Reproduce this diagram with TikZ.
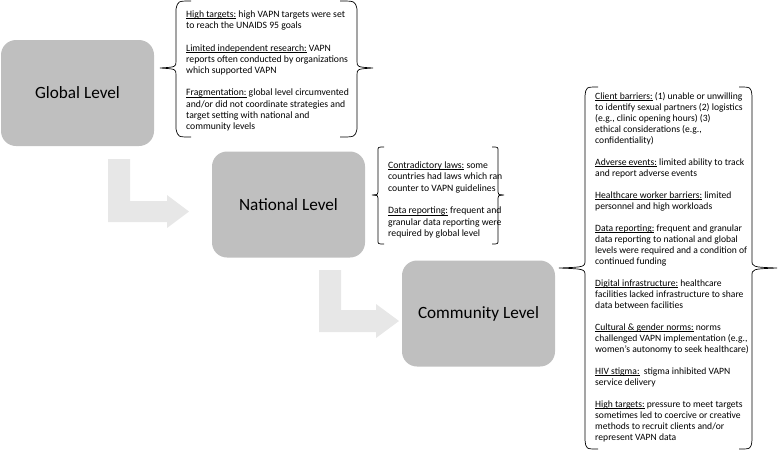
\documentclass[tikz,border=0pt]{standalone}
\usepackage{fontspec}
\setmainfont{Carlito}
\newsavebox{\labbox}
\newcommand{\lab}[1]{\sbox{\labbox}{#1}\rlap{\rule[-1.4pt]{\wd\labbox}{0.55pt}}\usebox{\labbox}}
\begin{document}
\begin{tikzpicture}[x=1pt,y=-1pt,
  level/.style={fill=boxgray, draw=none, rounded corners=15pt, minimum width=153pt, minimum height=106pt, inner sep=0pt, font=\fontsize{17.2}{20}\selectfont},
  bentarrow/.style={fill=arrowgray, draw=none},
  brace/.style={draw=black, line width=0.7pt},
  notes/.style={inner sep=0pt, align=left, anchor=west}]
\definecolor{boxgray}{HTML}{BFBFBF}
\definecolor{arrowgray}{HTML}{E7E7E7}
\useasboundingbox (0,0) rectangle (778,451);

% level boxes
\node[level] (global) at (77.5,93) {Global Level};
\node[level] (national) at (288.5,204.5) {National Level};
\node[level] (community) at (478.5,313.5) {Community Level};

% bent arrows
\fill[bentarrow] (108,159) -- (130,159) -- (130,201) -- (167,201) -- (167,195) -- (189,211.5) -- (167,228) -- (167,222) -- (108,222) -- cycle;
\fill[bentarrow] (319,270) -- (341,270) -- (341,310) -- (376,310) -- (376,304) -- (399,321) -- (376,338) -- (376,332) -- (319,332) -- cycle;

% braces: global
\draw[brace] (191,1) .. controls (178,1) .. (176,9) -- (176,61) .. controls (176,67) .. (160,68) .. controls (176,69) .. (176,75) -- (176,129) .. controls (178,137) .. (191,137);
\draw[brace] (340,1) .. controls (355,1) .. (357,9) -- (357,61) .. controls (357,67) .. (373,68) .. controls (357,69) .. (357,75) -- (357,129) .. controls (355,137) .. (340,137);
% braces: national
\draw[brace] (384,147) .. controls (378,147) .. (378,151) -- (378,192) .. controls (378,194.5) .. (372,195) .. controls (378,195.5) .. (378,198) -- (378,240) .. controls (378,244) .. (384,244);
\draw[brace] (492,147) .. controls (498,147) .. (498,151) -- (498,192) .. controls (498,194.5) .. (504,195) .. controls (498,195.5) .. (498,198) -- (498,240) .. controls (498,244) .. (492,244);
% braces: community
\draw[brace] (598,87) .. controls (586,87) .. (585,96) -- (585,260) .. controls (585,267) .. (559,268) .. controls (585,269) .. (585,276) -- (585,440) .. controls (586,449) .. (598,449);
\draw[brace] (739,87) .. controls (751,87) .. (752,96) -- (752,260) .. controls (752,267) .. (777,268) .. controls (752,269) .. (752,276) -- (752,440) .. controls (751,449) .. (739,449);

% notes
\node[notes, font=\fontsize{9.7}{11.2}\selectfont] (gnotes) at (186,71) {\lab{High targets:} high VAPN targets were set\\
to reach the UNAIDS 95 goals\\[11.2pt]
\lab{Limited independent research:} VAPN\\
reports often conducted by organizations\\
which supported VAPN\\[11.2pt]
\lab{Fragmentation:} global level circumvented\\
and/or did not coordinate strategies and\\
target setting with national and\\
community levels};

\node[notes, font=\fontsize{9.7}{11.3}\selectfont] (nnotes) at (388,200) {\lab{Contradictory laws:} some\\
countries had laws which ran\\
counter to VAPN guidelines\\[11.3pt]
\lab{Data reporting:} frequent and\\
granular data reporting were\\
required by global level};

\node[notes, font=\fontsize{9.6}{11}\selectfont] (cnotes) at (595,267) {\lab{Client barriers:} (1) unable or unwilling\\
to identify sexual partners (2) logistics\\
(e.g., clinic opening hours) (3)\\
ethical considerations (e.g.,\\
confidentiality)\\[11pt]
\lab{Adverse events:} limited ability to track\\
and report adverse events\\[11pt]
\lab{Healthcare worker barriers:} limited\\
personnel and high workloads\\[11pt]
\lab{Data reporting:} frequent and granular\\
data reporting to national and global\\
levels were required and a condition of\\
continued funding\\[11pt]
\lab{Digital infrastructure:} healthcare\\
facilities lacked infrastructure to share\\
data between facilities\\[11pt]
\lab{Cultural \& gender norms:} norms\\
challenged VAPN implementation (e.g.,\\
women’s autonomy to seek healthcare)\\[11pt]
\lab{HIV stigma:}\ \ stigma inhibited VAPN\\
service delivery\\[11pt]
\lab{High targets:} pressure to meet targets\\
sometimes led to coercive or creative\\
methods to recruit clients and/or\\
represent VAPN data};
\end{tikzpicture}
\end{document}
